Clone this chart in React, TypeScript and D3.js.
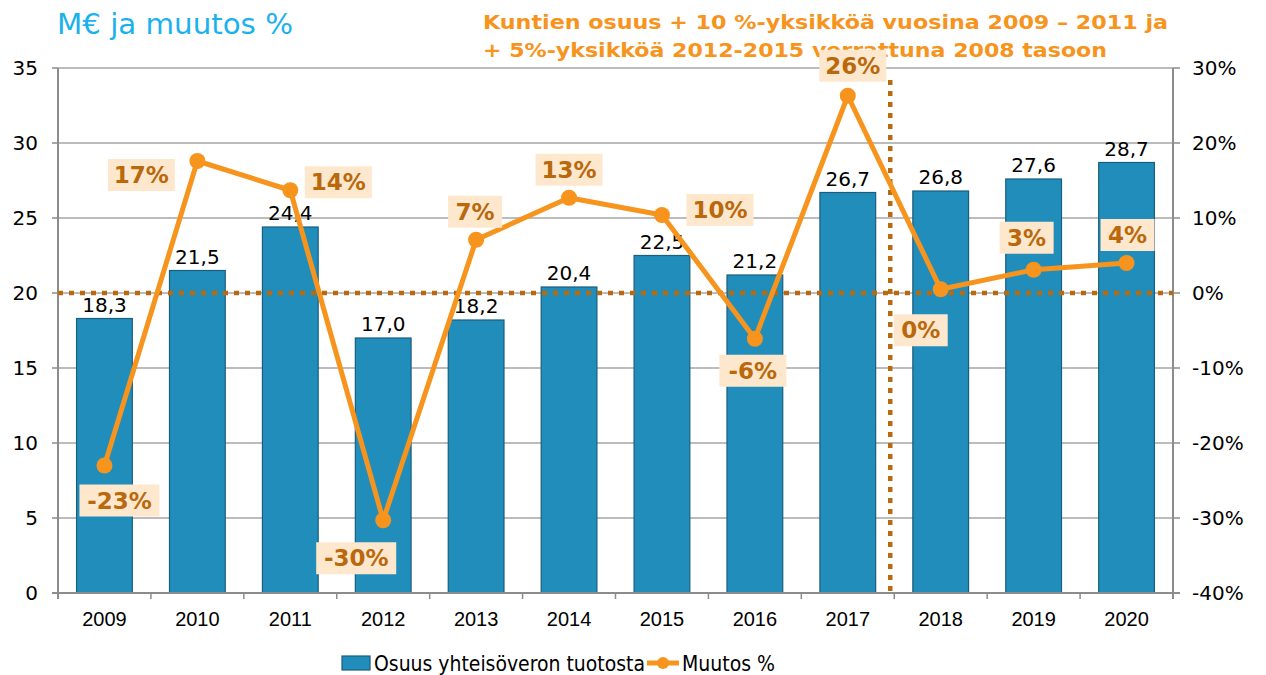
import React from "react";
import * as d3 from "d3";

const years = ["2009","2010","2011","2012","2013","2014","2015","2016","2017","2018","2019","2020"];
const shareValues = [18.3, 21.5, 24.4, 17.0, 18.2, 20.4, 22.5, 21.2, 26.7, 26.8, 27.6, 28.7];
const shareLabels = ["18,3","21,5","24,4","17,0","18,2","20,4","22,5","21,2","26,7","26,8","27,6","28,7"];
const changeValues = [-23.0, 17.6, 13.7, -30.3, 7.1, 12.7, 10.4, -6.1, 26.3, 0.5, 3.1, 4.0];
const changeLabels = ["-23%","17%","14%","-30%","7%","13%","10%","-6%","26%","0%","3%","4%"];
const leftTicks = [0, 5, 10, 15, 20, 25, 30, 35];
const rightTicks = [-40, -30, -20, -10, 0, 10, 20, 30];

// label placement offsets (layout only)
const labelOffsets: [number, number][] = [
  [15, 35], [-56, 14], [48, -8], [-27, 38], [-1, -28], [0, -28],
  [58, -5], [-2, 32], [5, -30], [-20, 41], [-7, -32], [1, -28],
];

const W = 1266, H = 675;
const L = 58, R = 1173, T = 68, B = 593;

export default function App() {
  const x = d3.scaleBand<string>().domain(years).range([L, R]).paddingInner(0.4).paddingOuter(0.2);
  const yL = d3.scaleLinear().domain([0, 35]).range([B, T]);
  const yR = d3.scaleLinear().domain([-40, 30]).range([B, T]);
  const cx = (i: number) => (x(years[i]) as number) + x.bandwidth() / 2;
  const line = d3.line<number>().x((_, i) => cx(i)).y((d) => yR(d));
  const step = x.step();
  const boundaries = d3.range(years.length + 1).map((i) => L + i * step);
  const vDivider = L + 9 * step - 4;

  const verd = "Verdana, 'DejaVu Sans', sans-serif";
  const orange = "#F7941D";
  const lblColor = "#BA680C";
  const lblBg = "#FDE7CD";
  const grid = "#A6A6A6";
  const dotted = "#BA6A0E";

  return (
    <svg width={W} height={H} style={{ position: "absolute", left: 0, top: 0, background: "#fff" }}>
      {/* title */}
      <text x={57} y={34} fontFamily={verd} fontSize={28} fill="#1AB2EE" textLength={236} lengthAdjust="spacingAndGlyphs">M€ ja muutos %</text>
      <text x={483} y={29} fontFamily="'DejaVu Sans Condensed', 'DejaVu Sans', sans-serif" fontWeight="bold" fontSize={20} fill={orange} textLength={685} lengthAdjust="spacingAndGlyphs">Kuntien osuus + 10 %-yksikköä vuosina 2009 – 2011 ja</text>
      <text x={483} y={57} fontFamily="'DejaVu Sans Condensed', 'DejaVu Sans', sans-serif" fontWeight="bold" fontSize={20} fill={orange} textLength={624} lengthAdjust="spacingAndGlyphs">+ 5%-yksikköä 2012-2015 verrattuna 2008 tasoon</text>

      {/* gridlines */}
      {leftTicks.filter((t) => t > 0).map((t) => (
        <line key={"g" + t} x1={L} x2={R} y1={yL(t)} y2={yL(t)} stroke={grid} strokeWidth={1.5} />
      ))}

      {/* bars */}
      {shareValues.map((v, i) => (
        <rect key={"b" + i} x={x(years[i])} y={yL(v)} width={x.bandwidth()} height={B - yL(v)}
          fill="#218DBB" stroke="#1A5E7E" strokeWidth={1.2} />
      ))}
      {shareValues.map((v, i) => (
        <text key={"bl" + i} x={cx(i)} y={yL(v) - 7} textAnchor="middle" fontFamily={verd} fontSize={20} fill="#000">{shareLabels[i]}</text>
      ))}

      {/* axes */}
      <line x1={L} x2={L} y1={T} y2={B + 6} stroke="#8C8C8C" strokeWidth={2} />
      <line x1={R} x2={R} y1={T} y2={B + 6} stroke="#8C8C8C" strokeWidth={2} />
      <line x1={L - 6} x2={R + 7} y1={B} y2={B} stroke="#8C8C8C" strokeWidth={2} />
      {leftTicks.map((t) => (
        <g key={"lt" + t}>
          <line x1={L - 6} x2={L} y1={yL(t)} y2={yL(t)} stroke="#8C8C8C" strokeWidth={1.5} />
          <text x={38} y={yL(t) + 7} textAnchor="end" fontFamily={verd} fontSize={20} fill="#000">{t}</text>
        </g>
      ))}
      {rightTicks.map((t) => (
        <g key={"rt" + t}>
          <line x1={R} x2={R + 7} y1={yR(t)} y2={yR(t)} stroke="#8C8C8C" strokeWidth={1.5} />
          <text x={1192} y={yR(t) + 7} textAnchor="start" fontFamily={verd} fontSize={20} fill="#000">{t + "%"}</text>
        </g>
      ))}
      {boundaries.map((bx, i) => (
        <line key={"bt" + i} x1={bx} x2={bx} y1={B} y2={B + 6} stroke="#8C8C8C" strokeWidth={1.5} />
      ))}
      {years.map((yr, i) => (
        <text key={"xl" + i} x={cx(i)} y={626} textAnchor="middle" fontFamily="Arial, 'Liberation Sans', sans-serif" fontSize={20} fill="#000">{yr}</text>
      ))}

      {/* dotted reference lines */}
      <line x1={L} x2={R} y1={yR(0)} y2={yR(0)} stroke={dotted} strokeWidth={4.5} strokeDasharray="5 6" />
      <line x1={vDivider} x2={vDivider} y1={80} y2={B} stroke={dotted} strokeWidth={4.5} strokeDasharray="5 6" />

      {/* change line */}
      <path d={line(changeValues) as string} fill="none" stroke={orange} strokeWidth={5} strokeLinejoin="round" />
      {changeValues.map((v, i) => (
        <circle key={"c" + i} cx={cx(i)} cy={yR(v)} r={8} fill={orange} />
      ))}
      {changeValues.map((v, i) => {
        const lx = cx(i) + labelOffsets[i][0];
        const ly = yR(v) + labelOffsets[i][1];
        const w = changeLabels[i].length * 13 + 28;
        return (
          <g key={"cl" + i}>
            <rect x={lx - w / 2} y={ly - 16} width={w} height={32} fill={lblBg} />
            <text x={lx} y={ly + 8} textAnchor="middle" fontFamily={verd} fontWeight="bold" fontSize={23} fill={lblColor}>{changeLabels[i]}</text>
          </g>
        );
      })}

      {/* legend */}
      <rect x={342} y={656} width={28} height={14} fill="#218DBB" stroke="#1A5E7E" strokeWidth={1.2} />
      <text x={374} y={671} fontFamily={verd} fontSize={21} fill="#000" textLength={271} lengthAdjust="spacingAndGlyphs">Osuus yhteisöveron tuotosta</text>
      <line x1={647} x2={679} y1={663} y2={663} stroke={orange} strokeWidth={5} />
      <circle cx={663} cy={663} r={6} fill={orange} />
      <text x={682} y={671} fontFamily={verd} fontSize={21} fill="#000" textLength={93} lengthAdjust="spacingAndGlyphs">Muutos %</text>
    </svg>
  );
}
